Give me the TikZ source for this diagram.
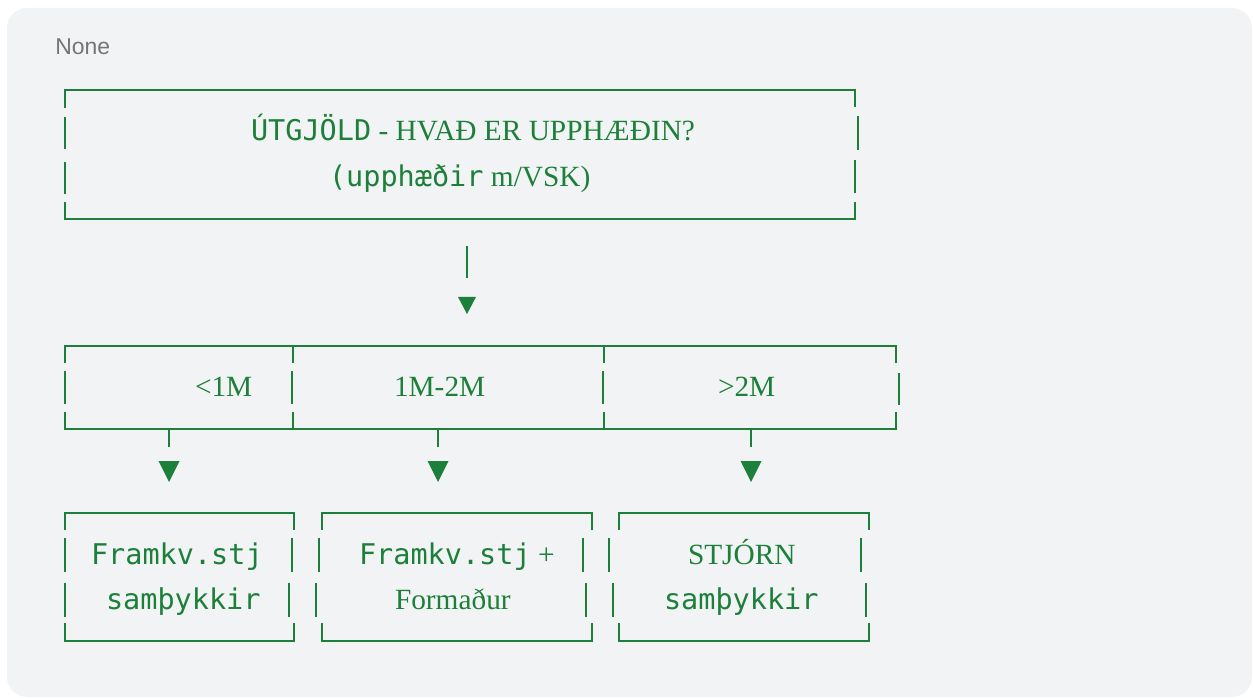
\documentclass[tikz,border=0pt]{standalone}
\usepackage{fontspec}
\newfontfamily\monof{DejaVu Sans Mono}
\newfontfamily\seriff{Liberation Serif}
\newfontfamily\sansf{Liberation Sans}
\definecolor{panelbg}{HTML}{F1F3F4}
\definecolor{grn}{HTML}{1C7F3A}
\definecolor{lbl}{HTML}{757575}
\newcommand{\mymono}{\monof\fontsize{21.4}{25}\selectfont}
\tikzset{
  ln/.style={draw=grn, line width=2.2pt, line cap=butt, line join=miter},
  tip/.style={fill=grn, draw=none},
  txt/.style={anchor=base west, inner sep=0pt, outer sep=0pt, text=grn,
    font=\seriff\fontsize{22}{25}\selectfont},
  mtxt/.style={txt, font=\mymono},
}
\begin{document}
\begin{tikzpicture}[x=0.75pt, y=-0.75pt]
\useasboundingbox (0,0) rectangle (1253,698);
\fill[panelbg, rounded corners=15pt] (7,8) rectangle (1252,697);
\node[anchor=base west, inner sep=0pt, text=lbl, font=\sansf\fontsize{17.2}{20}\selectfont] (title) at (55,55) {None};

% ---- top box
\draw[ln] (65,108) -- (65,90) -- (855,90) -- (855,107);
\draw[ln] (65,117) -- (65,149);
\draw[ln] (65,162) -- (65,194);
\draw[ln] (858,116) -- (858,150);
\draw[ln] (855,160) -- (855,193);
\draw[ln] (65,202) -- (65,219) -- (855,219) -- (855,202);
\node[txt] (t1) at (251,141) {{\mymono ÚTGJÖLD} - HVAÐ ER UPPHÆÐIN?};
\node[txt] (t2) at (329,187) {{\mymono (upphæðir} m/VSK)};

% ---- arrow from top box
\coordinate (a0) at (467,246);
\coordinate (a1) at (467,278);
\draw[ln] (a0) -- (a1);
\fill[tip] (458,297) -- (476,297) -- (467,314) -- cycle;

% ---- middle row
\draw[ln] (65,363) -- (65,346) -- (896,346) -- (896,363);
\draw[ln] (293,346) -- (293,363);
\draw[ln] (604,346) -- (604,363);
\draw[ln] (65,371) -- (65,404);
\draw[ln] (292,371) -- (292,404);
\draw[ln] (603,371) -- (603,404);
\draw[ln] (899,373) -- (899,405);
\draw[ln] (65,412) -- (65,429) -- (896,429) -- (896,412);
\draw[ln] (293,412) -- (293,429);
\draw[ln] (604,412) -- (604,429);
\node[txt] (m1) at (195,397) {<1M};
\node[txt] (m2) at (394,397) {1M-2M};
\node[txt] (m3) at (718,397) {>2M};

% ---- arrows to bottom boxes
\foreach \xx/\nm in {169/b1, 438/b2, 751/b3}{
  \coordinate (s\nm) at (\xx,429);
  \coordinate (e\nm) at (\xx,447);
  \draw[ln] (s\nm) -- (e\nm);
  \fill[tip] (\xx-10.5,461) -- (\xx+10.5,461) -- (\xx,482) -- cycle;
}

% ---- bottom box 1
\draw[ln] (65,530) -- (65,513) -- (294,513) -- (294,530);
\draw[ln] (65,538) -- (65,572);
\draw[ln] (65,583) -- (65,617);
\draw[ln] (292,538) -- (292,572);
\draw[ln] (289,583) -- (289,617);
\draw[ln] (65,623) -- (65,641) -- (294,641) -- (294,623);
\node[mtxt] (b1a) at (91,564) {Framkv.stj};
\node[mtxt] (b1b) at (106,609) {samþykkir};

% ---- bottom box 2
\draw[ln] (322,530) -- (322,513) -- (592,513) -- (592,530);
\draw[ln] (319,538) -- (319,572);
\draw[ln] (316,583) -- (316,617);
\draw[ln] (583,538) -- (583,572);
\draw[ln] (586,583) -- (586,617);
\draw[ln] (322,623) -- (322,641) -- (592,641) -- (592,623);
\node[txt] (b2a) at (359,564) {{\mymono Framkv.stj} +};
\node[txt] (b2b) at (395,609) {Formaður};

% ---- bottom box 3
\draw[ln] (619,530) -- (619,513) -- (869,513) -- (869,530);
\draw[ln] (609,538) -- (609,572);
\draw[ln] (613,583) -- (613,617);
\draw[ln] (861,538) -- (861,572);
\draw[ln] (866,583) -- (866,617);
\draw[ln] (619,623) -- (619,641) -- (869,641) -- (869,623);
\node[txt] (b3a) at (688,564) {STJÓRN};
\node[mtxt] (b3b) at (664,609) {samþykkir};
\end{tikzpicture}
\end{document}
